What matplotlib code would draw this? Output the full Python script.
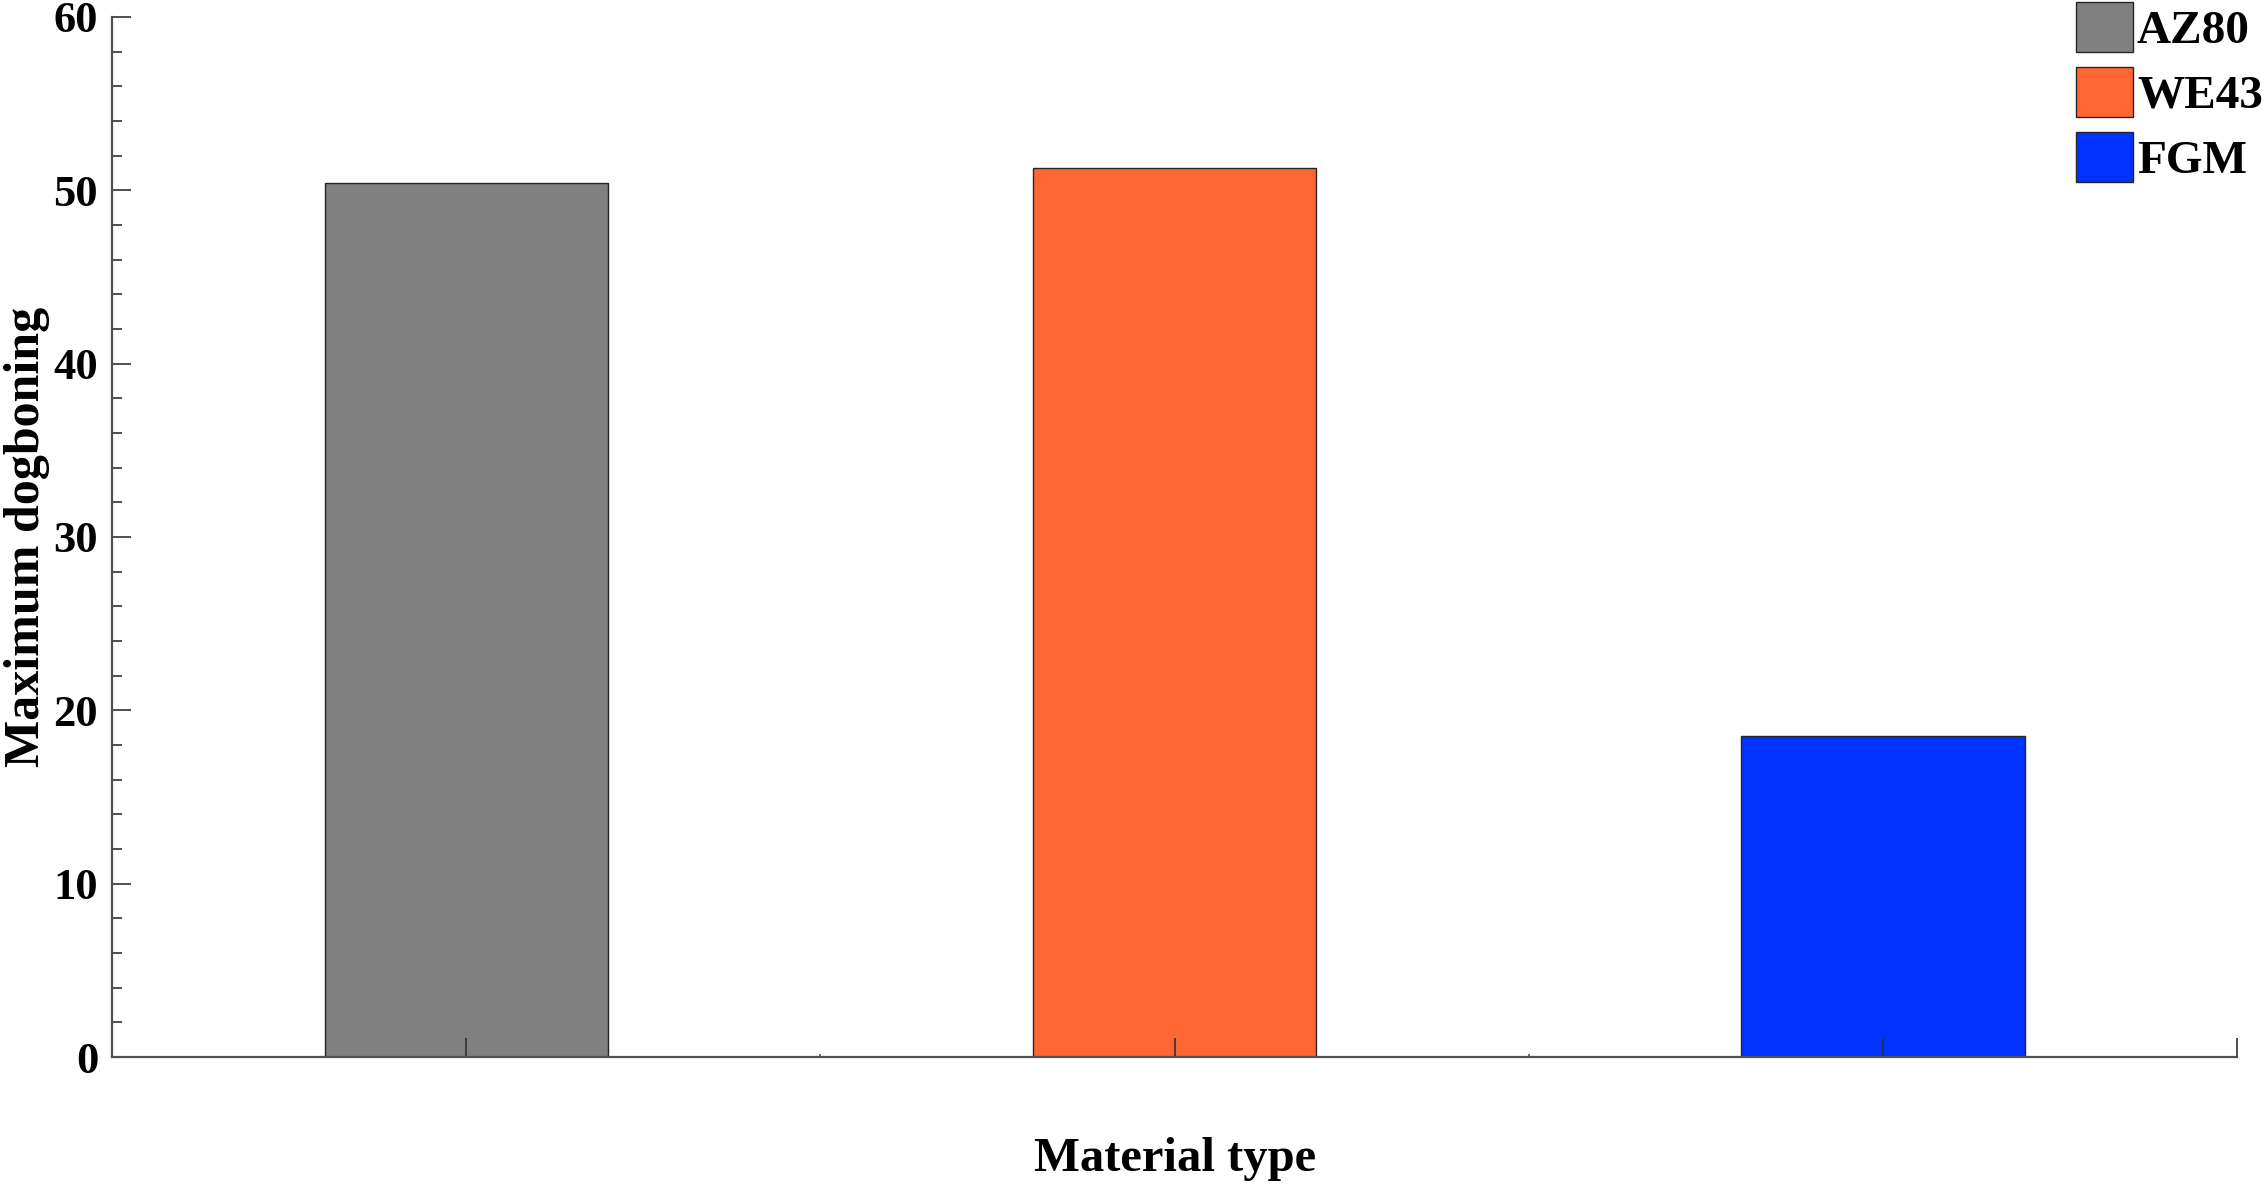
import numpy as np
import matplotlib.pyplot as plt

materials = ['AZ80', 'WE43', 'FGM']
dogboning = [50.4, 51.3, 18.5]
colors = ['#808080', '#FF6633', '#0033FF']

plt.rcParams['font.family'] = ['Liberation Serif', 'DejaVu Serif']
plt.rcParams['font.weight'] = 'bold'

fig = plt.figure(figsize=(22.64, 11.87), dpi=100)
ax = fig.add_axes([0.0495, 0.1095, 0.9386, 0.8762])

x = np.arange(1, len(materials) + 1)
for i in range(len(materials)):
    ax.bar(x[i], dogboning[i], width=0.4, color=colors[i], edgecolor='#262626',
           linewidth=1.0, label=materials[i], zorder=1)

ax.set_xlim(0.5, 3.5)
ax.set_ylim(0, 60)

ax.spines['top'].set_visible(False)
ax.spines['right'].set_visible(False)
for s in ['left', 'bottom']:
    ax.spines[s].set_color('#505050')
    ax.spines[s].set_linewidth(1.6)
    ax.spines[s].set_zorder(3)

ax.set_yticks(np.arange(0, 61, 10))
ax.set_yticks(np.arange(0, 61, 2), minor=True)
ax.tick_params(axis='y', which='major', direction='in', length=14, width=1.4,
               color='#505050', labelsize=32, pad=10)
ax.tick_params(axis='y', which='minor', direction='in', length=7, width=1.4,
               color='#505050')
for lab in ax.get_yticklabels():
    lab.set_fontweight('bold')

ax.set_xticks([1, 2, 3, 3.5])
ax.set_xticklabels([])
ax.set_xticks([1.5, 2.5], minor=True)
ax.tick_params(axis='x', which='major', direction='in', length=14, width=1.2,
               color='#303030', zorder=4)
ax.tick_params(axis='x', which='minor', direction='in', length=2, width=1.2,
               color='#505050')

ax.set_xlabel('Material type', fontsize=35, fontweight='bold')
ax.xaxis.set_label_coords(0.5, -0.077)
ax.set_ylabel('Maximum dogboning', fontsize=36, fontweight='bold')
ax.yaxis.set_label_coords(-0.029, 0.5)

leg = ax.legend(loc='upper right', bbox_to_anchor=(0.9995, 0.998),
                bbox_transform=fig.transFigure, frameon=False, fontsize=34,
                handlelength=1.22, handleheight=1.24, handletextpad=0.08,
                labelspacing=0.3, borderpad=0, borderaxespad=0)
for t in leg.get_texts():
    t.set_fontweight('bold')

fig.savefig('out.png', dpi=100)
